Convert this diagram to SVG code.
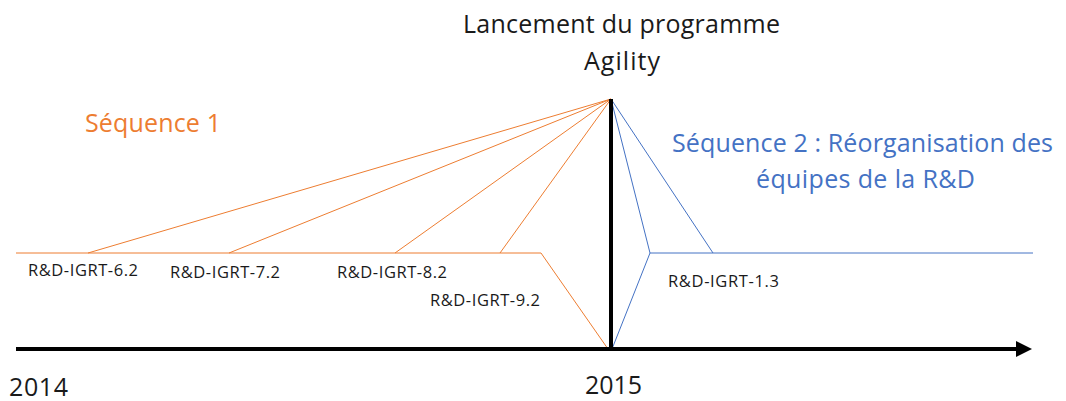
<svg xmlns="http://www.w3.org/2000/svg" width="1066" height="401" viewBox="0 0 1066 401">
<defs>
<style>
text{font-family:"Open Sans","Liberation Sans",sans-serif;fill:#1a1a1a}
.big{font-size:25px}
.lbl{font-size:16.5px}
.or{stroke:#ED7D31;stroke-width:1;fill:none}
.bl{stroke:#4472C4;stroke-width:1;fill:none}
.blk{stroke:#000;stroke-width:4;fill:none}
</style>
<marker id="arr" markerWidth="4" markerHeight="4" refX="0.5" refY="2" orient="auto" markerUnits="strokeWidth"><path d="M0,0 L4,2 L0,4 Z" fill="#000"/></marker>
</defs>
<rect width="1066" height="401" fill="#fff"/>
<g id="connectors">
<path class="or" d="M16,253 H541 L608,349"/>
<path class="or" d="M611,99 L88,253 M611,99 L229,253 M611,99 L395,253 M611,99 L500,253"/>
<path class="bl" d="M611,99 L713,253 M611,99 L650,253 L612,349 M650,253 H1033"/>
<path class="blk" d="M611,99 V349"/>
<path class="blk" d="M16,349 H1018" marker-end="url(#arr)"/>
</g>
<g id="title"><text class="big" x="463" y="33" textLength="317">Lancement du programme</text><text class="big" x="584" y="70" textLength="76">Agility</text></g>
<g id="seq1"><text class="big" x="85" y="132" style="fill:#ED7D31" textLength="136">Séquence 1</text></g>
<g id="seq2"><text class="big" x="672" y="152" style="fill:#4472C4" textLength="381">Séquence 2 : Réorganisation des</text><text class="big" x="756" y="188" style="fill:#4472C4" textLength="219">équipes de la R&amp;D</text></g>
<g id="n62"><text class="lbl" x="28" y="276" textLength="110">R&amp;D-IGRT-6.2</text></g>
<g id="n72"><text class="lbl" x="170" y="278" textLength="110">R&amp;D-IGRT-7.2</text></g>
<g id="n82"><text class="lbl" x="337" y="278" textLength="110">R&amp;D-IGRT-8.2</text></g>
<g id="n92"><text class="lbl" x="430" y="306" textLength="110">R&amp;D-IGRT-9.2</text></g>
<g id="n13"><text class="lbl" x="668" y="287" textLength="111">R&amp;D-IGRT-1.3</text></g>
<g id="y2014"><text class="big" x="9" y="396" textLength="59">2014</text></g>
<g id="y2015"><text class="big" x="585" y="394" textLength="57">2015</text></g>
</svg>
